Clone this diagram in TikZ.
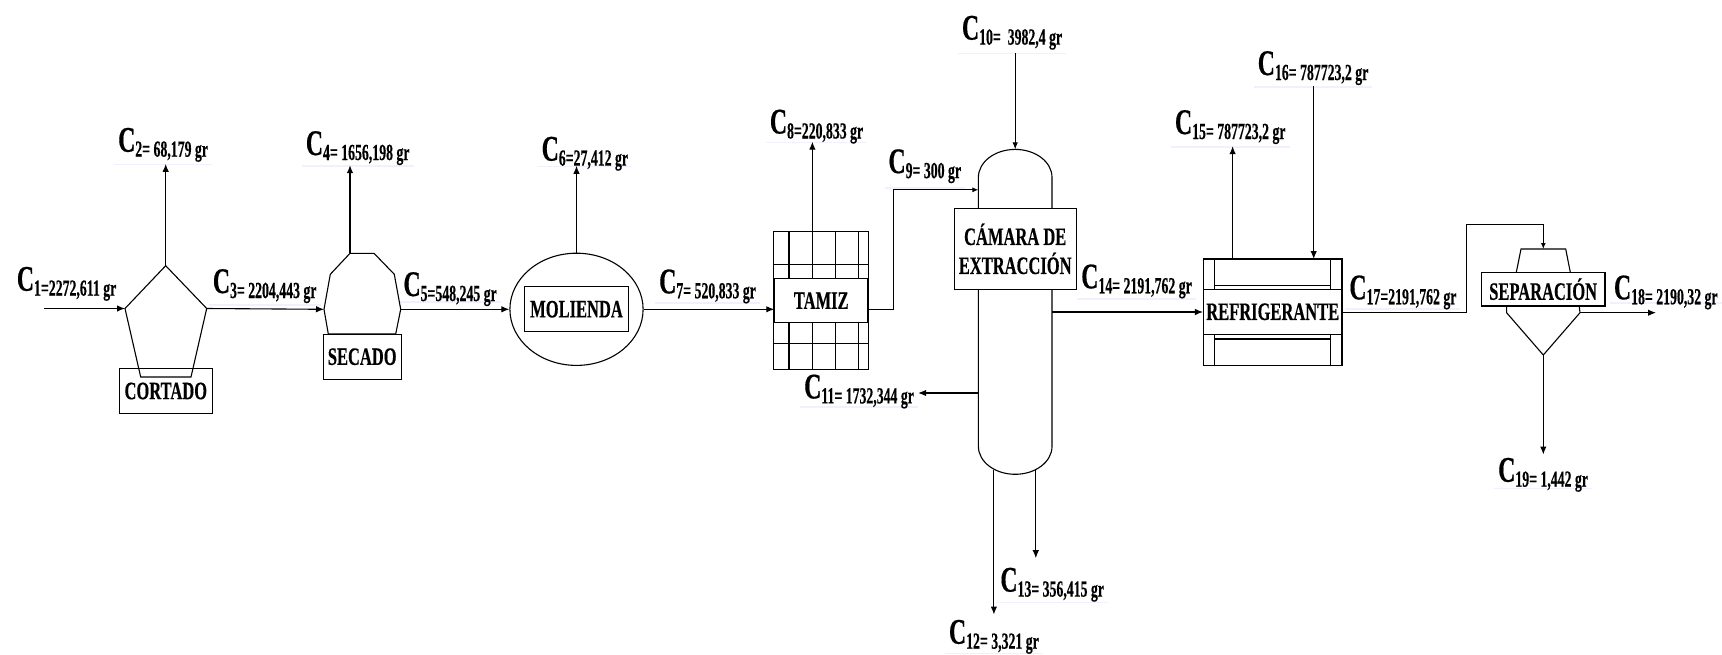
\documentclass[tikz,border=0pt]{standalone}
\usepackage{fontspec}
\setmainfont{Liberation Serif}[BoldFeatures={FakeBold=0.5}]
\usetikzlibrary{arrows.meta,shapes.geometric,shadows}
\newcommand\flowtext[1]{\bfseries\scalebox{.66}[1]{\fontsize{36}{36}\selectfont C}\raisebox{-5pt}{\scalebox{.6}[1]{\fontsize{23}{23}\selectfont #1}}}
\newcommand\boxtext[1]{\scalebox{.66}[1]{\bfseries #1}}
\tikzset{
  lab/.style 2 args={anchor=base west,inner xsep=4pt,inner ysep=0pt,text height=#1,text depth=#2,fill=white,xshift=-4pt,
    drop shadow={shadow xshift=0pt,shadow yshift=-1.5pt,fill=blue!20!white,opacity=.3}},
  plainlab/.style={anchor=base west,inner sep=0pt},
  unitbox/.style={draw,fill=white,line width=1.1pt,inner sep=0pt,align=center,font=\fontsize{25}{29}\selectfont},
  shapeline/.style={draw,line width=1.1pt,line join=miter},
  flow/.style={draw,line width=1.1pt,-{Latex[length=8pt,width=6.5pt]}},
  pipe/.style={draw,line width=1.1pt}
}
\begin{document}
\begin{tikzpicture}[x=1pt,y=-1pt]
\useasboundingbox (0,0) rectangle (1722,654);
% stream labels
\node[plainlab] (c1) at (16.7,290.7) {\flowtext{1=2272,611 gr}};
\node[lab={30pt}{12pt}] (c2) at (118,151.7) {\flowtext{2= 68,179 gr}};
\node[lab={23pt}{11pt}] (c3) at (212.7,293) {\flowtext{3= 2204,443 gr}};
\node[lab={28pt}{10pt}] (c4) at (305.7,155) {\flowtext{4= 1656,198 gr}};
\node[lab={21pt}{5pt}] (c5) at (403.3,296) {\flowtext{5=548,245 gr}};
\node[lab={21pt}{5pt}] (c6) at (541.5,160.6) {\flowtext{6=27,412 gr}};
\node[lab={24pt}{9pt}] (c7) at (659,293.3) {\flowtext{7= 520,833 gr}};
\node[lab={24pt}{8pt}] (c8) at (769.7,133.5) {\flowtext{8=220,833 gr}};
\node[lab={29pt}{14pt}] (c9) at (888.3,173.1) {\flowtext{9= 300 gr}};
\node[lab={30pt}{13pt}] (c10) at (961.8,39.6) {\flowtext{10=\ \ 3982,4 gr}};
\node[lab={26pt}{8pt}] (c11) at (804,398.4) {\flowtext{11= 1732,344 gr}};
\node[lab={26pt}{9pt}] (c12) at (948.8,643.7) {\flowtext{12= 3,321 gr}};
\node[lab={28pt}{10pt}] (c13) at (1000.2,591.6) {\flowtext{13= 356,415 gr}};
\node[lab={30pt}{10pt}] (c14) at (1081.1,288.3) {\flowtext{14= 2191,762 gr}};
\node[lab={32pt}{12pt}] (c15) at (1174.8,134) {\flowtext{15= 787723,2 gr}};
\node[lab={31pt}{11pt}] (c16) at (1257.6,75) {\flowtext{16= 787723,2 gr}};
\node[lab={31pt}{9pt}] (c17) at (1349.2,299.3) {\flowtext{17=2191,762 gr}};
\node[lab={28pt}{3pt}] (c18) at (1613.8,299.3) {\flowtext{18= 2190,32 gr}};
\node[lab={27pt}{6pt}] (c19) at (1498,481.7) {\flowtext{19= 1,442 gr}};
% cortado
\coordinate (pT) at (165.7,265.7);
\coordinate (pL) at (125,308.5);
\coordinate (pR) at (206.7,308.5);
\coordinate (pBL) at (140.7,377);
\coordinate (pBR) at (191,377);
\coordinate (in1) at (44,308.5);
\node[unitbox,minimum width=93pt,minimum height=45.4pt] (cortado) at (165.8,391) {\boxtext{CORTADO}};
\path[shapeline] (pT) -- (pR) -- (pBR) -- (pBL) -- (pL) -- cycle;
% secado
\coordinate (sA) at (350,253.3);
\coordinate (sB) at (374,253.3);
\coordinate (sC) at (394.3,274.3);
\coordinate (sD) at (400.7,309.3);
\coordinate (sE) at (395.7,334);
\coordinate (sF) at (328.3,334);
\coordinate (sG) at (324,309.3);
\coordinate (sH) at (330.3,274.3);
\path[shapeline] (sA) -- (sB) -- (sC) -- (sD) -- (sE) -- (sF) -- (sG) -- (sH) -- cycle;
\node[unitbox,minimum width=77.7pt,minimum height=44.7pt] (secado) at (362.2,356.7) {\boxtext{SECADO}};
% molienda
\node[draw,ellipse,line width=1.1pt,minimum width=133.2pt,minimum height=112.2pt,inner sep=0pt] (mol) at (576.5,309.3) {};
\node[unitbox,minimum width=104pt,minimum height=45.1pt] (molienda) at (576.5,309.2) {\boxtext{MOLIENDA}};
% tamiz
\foreach \gx in {773.2,789,812.4,835.7,858.6,868.9} \draw[line width=1.1pt] (\gx,231.5) -- (\gx,369.6);
\foreach \gy in {231.5,264.9,343.3,369.6} \draw[line width=1.1pt] (773.2,\gy) -- (868.9,\gy);
\node[unitbox,minimum width=92.9pt,minimum height=44.6pt] (tamiz) at (821.25,300.6) {\boxtext{TAMIZ}};
\coordinate (gridtop) at (812.4,231.5);
% vessel
\coordinate (v9) at (978.4,189.8);
\coordinate (v11) at (978.4,393);
\coordinate (v14) at (1052,312);
\coordinate (vtop) at (1015.2,149.4);
\coordinate (v12) at (993.9,470);
\coordinate (v13) at (1035.8,469);
\path[shapeline] (978.4,177.3) .. controls (978.4,161.9) and (994.9,149.4) .. (vtop) .. controls (1035.5,149.4) and (1052,161.9) .. (1052,177.3) -- (1052,446.4) .. controls (1052,461.8) and (1035.5,474.3) .. (1015.2,474.3) .. controls (994.9,474.3) and (978.4,461.8) .. (978.4,446.4) -- cycle;
\node[unitbox,minimum width=121.8pt,minimum height=80.5pt] (camara) at (1015.2,248.85) {\boxtext{CÁMARA DE}\\\boxtext{EXTRACCIÓN}};
% refrigerante
\draw[line width=1.1pt] (1203.5,259) rectangle (1342,365.3);
\draw[line width=1.1pt] (1214.9,259) -- (1214.9,365.3);
\draw[line width=1.1pt] (1330.6,259) -- (1330.6,365.3);
\draw[line width=1.1pt] (1214.9,285.3) -- (1330.6,285.3);
\draw[line width=1.1pt] (1214.9,339) -- (1330.6,339);
\node[unitbox,minimum width=138.5pt,minimum height=45pt] (refri) at (1272.75,311.8) {\boxtext{REFRIGERANTE}};
\coordinate (rtopA) at (1232.6,259);
\coordinate (rtopB) at (1313.7,259);
% separacion
\coordinate (stA) at (1521,249);
\coordinate (stB) at (1565.7,249);
\coordinate (stC) at (1570.3,272.3);
\coordinate (stD) at (1516.3,272.3);
\path[shapeline] (stD) -- (stA) -- (stB) -- (stC);
\node[unitbox,minimum width=123.7pt,minimum height=33.7pt] (sep) at (1543.15,289.15) {\boxtext{SEPARACIÓN}};
\coordinate (slA) at (1506.6,306);
\coordinate (slB) at (1506.6,312.7);
\coordinate (slC) at (1543.3,355);
\coordinate (slD) at (1580,312.7);
\coordinate (slE) at (1579.2,306);
\coordinate (sepin) at (1543.3,249);
\path[shapeline] (slA) -- (slB) -- (slC) -- (slD) -- (slE);
% free ends and corners
\coordinate (c9a) at (893.4,309.6);
\coordinate (c9b) at (893.4,189.8);
\coordinate (c17a) at (1466.5,312.3);
\coordinate (c17b) at (1466.5,224.7);
\coordinate (c17c) at (1543.3,224.7);
\coordinate (end18) at (1656,312.7);
\coordinate (end12) at (993.9,614.5);
\coordinate (end13) at (1035.8,558.2);
% connectors
\path[flow] (in1) -- (pL);
\path[flow] (pT) -- (pT |- c2.south);
\path[flow] (pR) -- (sG);
\path[flow] (sA) -- (sA |- c4.south);
\path[flow] (sD) -- (mol.west);
\path[flow] (mol.north) -- (mol.north |- c6.south);
\path[flow] (mol.east) -- (mol.east -| tamiz.west);
\path[flow] (gridtop) -- (gridtop |- c8.south);
\path[pipe,-{Latex[length=6pt,width=5pt]}] (tamiz.east |- c9a) -- (c9a) -- (c9b) -- (v9);
\path[flow,-{Latex[length=7pt,width=5.5pt]}] (vtop |- c10.south) -- (vtop);
\path[flow] (v11) -- (c11.east |- v11);
\path[flow] (v12) -- (end12);
\path[flow] (v13) -- (end13);
\path[flow] (v14) -- (refri.west |- v14);
\path[flow] (rtopA) -- (rtopA |- c15.south);
\path[flow] (rtopB |- c16.south) -- (rtopB);
\path[pipe,-{Latex[length=6pt,width=5pt]}] (refri.east |- c17a) -- (c17a) -- (c17b) -- (c17c) -- (sepin);
\path[flow] (slD) -- (end18);
\path[flow] (slC) -- (slC |- c19.north);
\end{tikzpicture}
\end{document}
